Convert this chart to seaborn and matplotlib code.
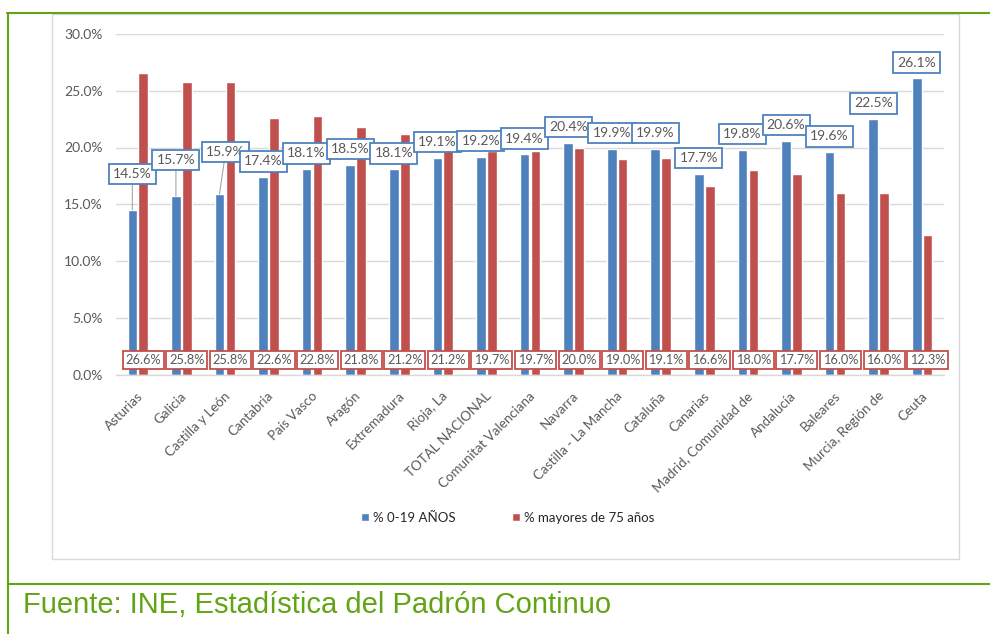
import matplotlib
matplotlib.use("Agg")
import matplotlib.pyplot as plt
from matplotlib.lines import Line2D
from matplotlib.patches import Rectangle
from matplotlib.ticker import FuncFormatter
from matplotlib.transforms import ScaledTranslation
import pandas as pd
import seaborn as sns

# ---------------------------------------------------------------------------
# data
# ---------------------------------------------------------------------------
regiones = [
    "Asturias", "Galicia", "Castilla y León", "Cantabria", "País Vasco",
    "Aragón", "Extremadura", "Rioja, La", "TOTAL NACIONAL",
    "Comunitat Valenciana", "Navarra", "Castilla - La Mancha", "Cataluña",
    "Canarias", "Madrid, Comunidad de", "Andalucía", "Baleares",
    "Murcia, Región de", "Ceuta",
]
jovenes = [14.5, 15.7, 15.9, 17.4, 18.1, 18.5, 18.1, 19.1, 19.2, 19.4,
           20.4, 19.9, 19.9, 17.7, 19.8, 20.6, 19.6, 22.5, 26.1]
mayores = [26.6, 25.8, 25.8, 22.6, 22.8, 21.8, 21.2, 21.2, 19.7, 19.7,
           20.0, 19.0, 19.1, 16.6, 18.0, 17.7, 16.0, 16.0, 12.3]
serie_jov = "% 0-19 AÑOS"
serie_may = "% mayores de 75 años"
y_ticks = [0, 5, 10, 15, 20, 25, 30]
fuente = "Fuente: INE, Estadística del Padrón Continuo"

BLUE = "#4F81BD"
RED = "#C0504D"
GREEN = "#62A414"
GREY_TXT = "#595959"
GRID = "#D9D9D9"

n = len(regiones)
df = pd.DataFrame({
    "Región": regiones * 2,
    "Valor": jovenes + mayores,
    "Serie": [serie_jov] * n + [serie_may] * n,
})

sns.set_theme(style="white")
plt.rcParams["font.family"] = ["Lato", "DejaVu Sans"]

W, H = 990, 634
fig = plt.figure(figsize=(W / 100, H / 100), dpi=100)
ax = fig.add_axes([116 / W, 1 - 374.5 / H, (944 - 116) / W, (374.5 - 34) / H])

BAR_W = 0.5
sns.barplot(data=df, x="Región", y="Valor", hue="Serie", palette=[BLUE, RED],
            width=BAR_W, gap=0.12, saturation=1, ax=ax)

ax.set_ylim(0, 30)
ax.set_xlim(-0.5, n - 0.5)
ax.set_yticks(y_ticks)
ax.yaxis.set_major_formatter(FuncFormatter(lambda v, _: f"{v:.1f}%"))
ax.yaxis.grid(True, color=GRID, lw=1)
ax.set_axisbelow(True)
for s in ["left", "right", "top"]:
    ax.spines[s].set_visible(False)
ax.spines["bottom"].set_color(GRID)
ax.spines["bottom"].set_linewidth(1)
ax.set_xlabel("")
ax.set_ylabel("")
ax.tick_params(axis="y", length=0, pad=9.5, labelsize=10, labelcolor=GREY_TXT)
ax.tick_params(axis="x", length=0, pad=14, labelsize=9.6, labelcolor=GREY_TXT)
shift = ScaledTranslation(3 / 100, 0, fig.dpi_scale_trans)
for lab in ax.get_xticklabels():
    lab.set_rotation(45)
    lab.set_ha("right")
    lab.set_va("center")
    lab.set_rotation_mode("anchor")
    lab.set_transform(lab.get_transform() + shift)

# --- data labels: blue callouts above the bars, red ones along the bottom ---
desp = BAR_W / 4
lift_esp = {0: 3.17, 1: 3.2, 2: 3.7}   # callouts moved up with a leader line
dx_esp = {2: 0.14}
for i, v in enumerate(jovenes):
    lift = lift_esp.get(i, 1.38)
    leader = dict(arrowstyle="-", color="#A6A6A6", lw=0.8, shrinkA=0, shrinkB=0)
    ax.annotate(f"{v:.1f}%", xy=(i - desp, v),
                xytext=(i - desp + dx_esp.get(i, 0), v + lift),
                ha="center", va="center", fontsize=10, color=GREY_TXT,
                bbox=dict(boxstyle="square,pad=0.3", fc="white", ec=BLUE, lw=1.3),
                arrowprops=leader if i in lift_esp else None, zorder=5)
for i, v in enumerate(mayores):
    ax.text(i + desp, 1.28, f"{v:.1f}%", ha="center", va="center",
            fontsize=9.2, color=GREY_TXT, zorder=5,
            bbox=dict(boxstyle="square,pad=0.22", fc="white", ec=RED, lw=1.3))

# --- legend below the chart ---
leg = ax.get_legend()
handles = leg.legend_handles
labels = [t.get_text() for t in leg.get_texts()]
leg.remove()
fig.legend(handles, labels, loc="center", bbox_to_anchor=(508 / W, 1 - 518 / H),
           ncol=2, frameon=False, fontsize=9.5, handlelength=0.55, handleheight=0.55,
           handletextpad=0.35, columnspacing=4.3, labelcolor="#262626")

# --- chart area border and green frame ---
fig.add_artist(Rectangle((52 / W, 1 - 559 / H), (959 - 52) / W, (559 - 14) / H,
                         transform=fig.transFigure, fill=False, ec=GRID, lw=1))
fig.add_artist(Line2D([7 / W, 1], [1 - 13 / H] * 2, transform=fig.transFigure,
                      color=GREEN, lw=1.5))
fig.add_artist(Line2D([8 / W, 8 / W], [0, 1 - 13 / H], transform=fig.transFigure,
                      color=GREEN, lw=1.5))
fig.add_artist(Line2D([8 / W, 1], [1 - 584 / H] * 2, transform=fig.transFigure,
                      color=GREEN, lw=1.5))

fig.text(23 / W, 1 - 613 / H, fuente, fontsize=21, color=GREEN,
         family=["Liberation Sans", "DejaVu Sans"], va="baseline", ha="left")

fig.savefig("out.png", dpi=100, facecolor="white")
